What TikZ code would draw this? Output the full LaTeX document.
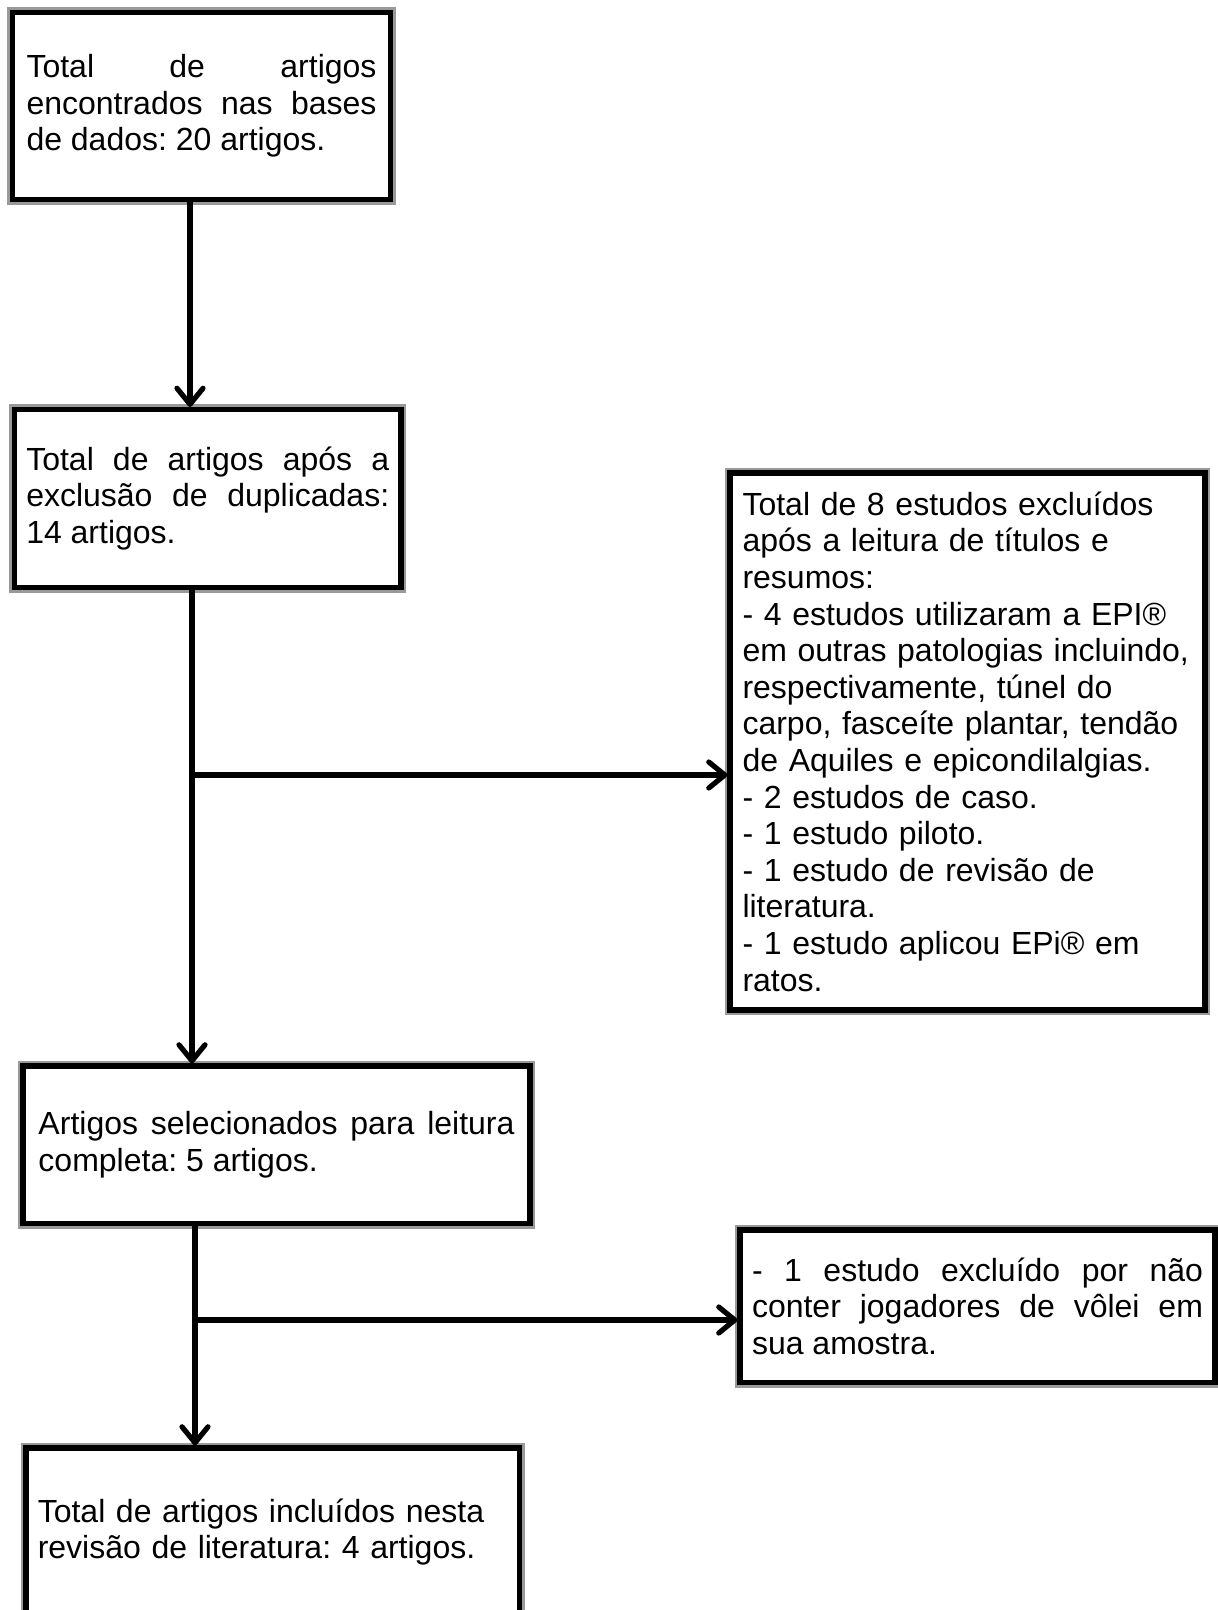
\documentclass[tikz,border=0pt]{standalone}
\usepackage{fontspec}
\setmainfont{Liberation Sans}
\usetikzlibrary{positioning,arrows.meta}
\hyphenpenalty=10000
\exhyphenpenalty=10000
\tolerance=10000
\frenchspacing

\begin{document}
\begin{tikzpicture}[
    x=0.5pt, y=-0.5pt,
    box/.style={rectangle, draw=black, line width=2.6pt, fill=white, inner sep=0pt, preaction={draw=black!40, line width=5.2pt}, font=\fontsize{16}{18.3}\selectfont},
    arrow/.style={-{Straight Barb[length=8pt, width=13pt, round]}, draw=black, line width=2.6pt}
]
    \useasboundingbox (0,0) rectangle (1218,1610);
    \clip (0,0) rectangle (1218,1610);

    % Left column of steps
    \node (found) at (201.5,106) [box, minimum width=189pt, minimum height=93.75pt, text width=175pt, align=justify] {Total de artigos encontrados nas bases de dados: 20 artigos.};

    \node (dedup) at (207.75,498.5) [box, minimum width=193.25pt, minimum height=89pt, text width=181.5pt, align=justify] {Total de artigos após a exclusão de duplicadas: 14 artigos.};

    \node (fulltext) at (276.5,1144.75) [box, minimum width=253.5pt, minimum height=78.75pt, text width=238pt, align=justify] {Artigos selecionados para leitura completa: 5 artigos.};

    \node (included) at (272.75,1532) [box, minimum width=246.75pt, minimum height=84pt, text width=235pt, align=left] {
        Total de artigos incluídos nesta\\
        revisão de literatura: 4 artigos.
    };

    % Right column of exclusions
    \node (excluded) at (967.5,741.5) [box, minimum width=237.5pt, minimum height=268.5pt, text width=225pt, align=left] {
        Total de 8 estudos excluídos\\
        após a leitura de títulos e\\
        resumos:\\
        - 4 estudos utilizaram a EPI®\\
        em outras patologias incluindo,\\
        respectivamente, túnel do\\
        carpo, fasceíte plantar, tendão\\
        de Aquiles e epicondilalgias.\\
        - 2 estudos de caso.\\
        - 1 estudo piloto.\\
        - 1 estudo de revisão de\\
        literatura.\\
        - 1 estudo aplicou EPi® em\\
        ratos.
    };

    \node (dropped) at (977.5,1306.25) [box, minimum width=237.5pt, minimum height=76.25pt, text width=225.5pt, align=justify] {- 1 estudo excluído por não conter jogadores de vôlei em sua amostra.};

    % Spine and forks
    \coordinate (spine) at (190,0);
    \coordinate (fork1) at (192,775);
    \coordinate (fork2) at (195,1320);

    \draw [arrow] (found.south -| spine) -- (dedup.north -| spine);
    \draw [arrow] (dedup.south -| fork1) -- (fulltext.north -| fork1);
    \draw [arrow] (fork1) -- (fork1 -| excluded.west);
    \draw [arrow] (fulltext.south -| fork2) -- (included.north -| fork2);
    \draw [arrow] (fork2) -- (fork2 -| dropped.west);

\end{tikzpicture}
\end{document}
